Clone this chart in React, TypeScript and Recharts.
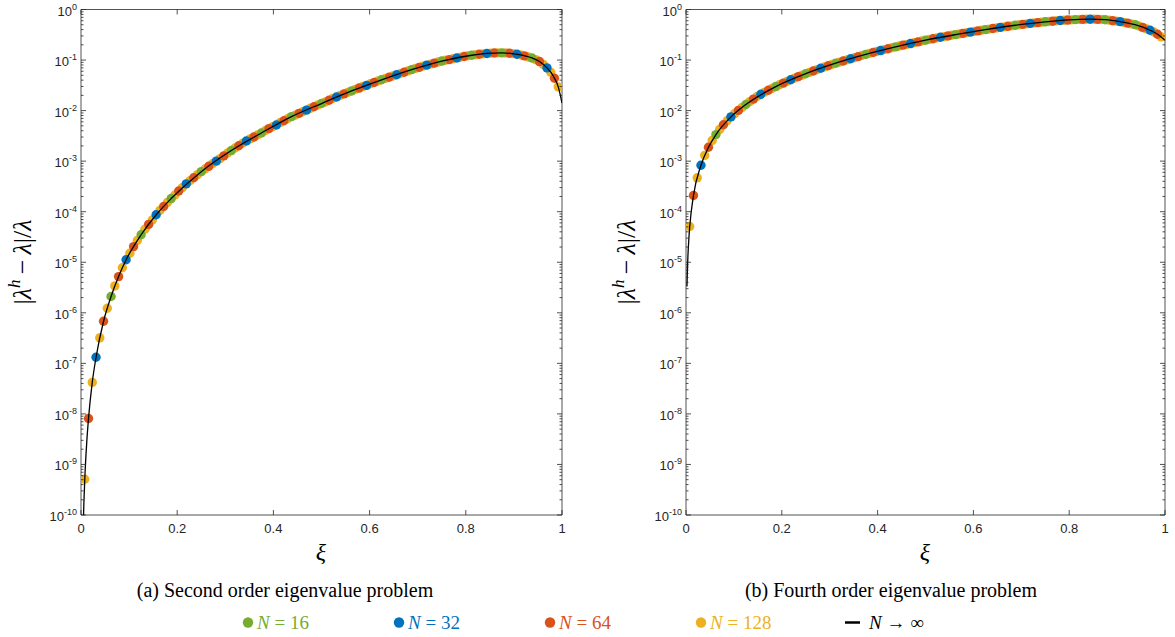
import React from "react";
import { ComposedChart, Scatter, Line, XAxis, YAxis } from "recharts";

// (a) second order problem: |lambda_h - lambda| / lambda
// N = 16 at k/16, k = 1..15
const n16A = [2.1e-6, 3.5e-5, 1.82e-4, 6.2e-4, 1.62e-3, 3.6e-3, 7.6e-3, 1.38e-2, 2.45e-2, 4.07e-2, 6.46e-2, 9.55e-2, 0.1245, 0.1387, 0.11];
// N = 32 at odd k/32 (even ones sit under the N = 16 dots)
const n32A = [1.32e-7, 1.12e-5, 8.7e-5, 3.55e-4, 1.0e-3, 2.5e-3, 5.2e-3, 1.02e-2, 1.86e-2, 3.16e-2, 5.13e-2, 7.94e-2, 0.11, 0.135, 0.13, 0.07];
// N = 64 at odd k/64
const n64A = [
  8.1e-9, 6.8e-7, 5.2e-6, 2.04e-5, 5.6e-5, 1.27e-4, 2.57e-4, 4.7e-4, 7.9e-4, 1.27e-3, 2.02e-3, 3.0e-3, 4.4e-3, 6.3e-3, 8.8e-3, 1.19e-2,
  1.6e-2, 2.14e-2, 2.79e-2, 3.59e-2, 4.57e-2, 5.75e-2, 7.16e-2, 8.71e-2, 0.102, 0.1175, 0.13, 0.1377, 0.136, 0.121, 0.0933, 0.0437,
];
// N = 128 at odd k/128
const n128A = [
  5.1e-10, 4.2e-8, 3.2e-7, 1.23e-6, 3.4e-6, 7.8e-6, 1.51e-5, 2.7e-5, 4.5e-5, 6.9e-5, 1.06e-4, 1.53e-4, 2.14e-4, 3.0e-4, 4.1e-4, 5.4e-4,
  7.0e-4, 8.9e-4, 1.12e-3, 1.45e-3, 1.82e-3, 2.26e-3, 2.75e-3, 3.3e-3, 4.0e-3, 4.8e-3, 5.8e-3, 6.9e-3, 8.1e-3, 9.5e-3, 1.11e-2, 1.29e-2,
  1.48e-2, 1.74e-2, 2.0e-2, 2.29e-2, 2.63e-2, 2.99e-2, 3.39e-2, 3.85e-2, 4.32e-2, 4.84e-2, 5.43e-2, 6.1e-2, 6.84e-2, 7.59e-2, 8.32e-2, 9.12e-2,
  9.89e-2, 0.106, 0.1135, 0.1217, 0.127, 0.1327, 0.1365, 0.1384, 0.138, 0.1337, 0.126, 0.115, 0.102, 0.0822, 0.0575, 0.0295,
];
// N -> infinity curve
const limXiA = [0.004, 0.006, 0.008, 0.012, 0.0156, 0.0234, 0.0313, 0.0469, 0.0625, 0.0781, 0.0938, 0.125, 0.1563, 0.1875, 0.25, 0.3125, 0.375, 0.4375, 0.5, 0.5625, 0.625, 0.6875, 0.75, 0.8125, 0.8438, 0.875, 0.9063, 0.9375, 0.9531, 0.9688, 0.9766, 0.9844, 0.9922, 1];
const limErrA = [3.5e-11, 1.74e-10, 5.5e-10, 2.8e-9, 8.1e-9, 4.2e-8, 1.32e-7, 6.8e-7, 2.1e-6, 5.2e-6, 1.12e-5, 3.5e-5, 8.7e-5, 1.82e-4, 6.2e-4, 1.62e-3, 3.6e-3, 7.6e-3, 1.38e-2, 2.45e-2, 4.07e-2, 6.46e-2, 9.55e-2, 0.1245, 0.135, 0.1387, 0.13, 0.11, 0.0933, 0.07, 0.0575, 0.0437, 0.0295, 0.0141];

// (b) fourth order problem
const n16B = [3.35e-3, 1.32e-2, 2.99e-2, 5.37e-2, 8.65e-2, 0.129, 0.182, 0.247, 0.318, 0.399, 0.488, 0.571, 0.631, 0.628, 0.501];
const n32B = [8.3e-4, 7.5e-3, 2.11e-2, 4.07e-2, 6.87e-2, 0.106, 0.154, 0.212, 0.282, 0.357, 0.443, 0.531, 0.605, 0.643, 0.575, 0.389];
const n64B = [
  2.09e-4, 1.88e-3, 5.25e-3, 1.01e-2, 1.69e-2, 2.53e-2, 3.5e-2, 4.69e-2, 6.08e-2, 7.71e-2, 9.57e-2, 0.117, 0.141, 0.167, 0.197, 0.229,
  0.264, 0.3, 0.337, 0.378, 0.421, 0.465, 0.508, 0.551, 0.587, 0.618, 0.637, 0.638, 0.601, 0.537, 0.442, 0.324,
];
const n128B = [
  5.1e-5, 4.68e-4, 1.3e-3, 2.57e-3, 4.22e-3, 6.31e-3, 8.71e-3, 1.16e-2, 1.5e-2, 1.9e-2, 2.32e-2, 2.75e-2, 3.24e-2, 3.78e-2, 4.38e-2, 5.02e-2,
  5.71e-2, 6.47e-2, 7.28e-2, 8.17e-2, 9.1e-2, 0.1007, 0.111, 0.123, 0.135, 0.148, 0.161, 0.175, 0.189, 0.204, 0.22, 0.238,
  0.255, 0.273, 0.29, 0.309, 0.327, 0.347, 0.367, 0.388, 0.409, 0.432, 0.453, 0.475, 0.498, 0.52, 0.541, 0.561,
  0.579, 0.597, 0.611, 0.624, 0.634, 0.64, 0.641, 0.634, 0.615, 0.589, 0.556, 0.519, 0.471, 0.415, 0.359, 0.288,
];
const limXiB = [0.002, 0.003, 0.004, 0.006, 0.0078, 0.0156, 0.0313, 0.0469, 0.0625, 0.0938, 0.125, 0.1875, 0.25, 0.3125, 0.375, 0.4375, 0.5, 0.5625, 0.625, 0.6875, 0.75, 0.8125, 0.8438, 0.875, 0.9063, 0.9375, 0.9688, 0.9844, 1];
const limErrB = [3.3e-6, 7.4e-6, 1.32e-5, 2.95e-5, 5.1e-5, 2.09e-4, 8.3e-4, 1.88e-3, 3.35e-3, 7.5e-3, 1.32e-2, 2.99e-2, 5.37e-2, 8.65e-2, 0.129, 0.182, 0.247, 0.318, 0.399, 0.488, 0.571, 0.631, 0.643, 0.628, 0.575, 0.501, 0.389, 0.324, 0.247];

const xTicks = [0, 0.2, 0.4, 0.6, 0.8, 1];
const yDecades = [1e-10, 1e-9, 1e-8, 1e-7, 1e-6, 1e-5, 1e-4, 1e-3, 1e-2, 1e-1, 1];
const legendN = ["16", "32", "64", "128"];

const AX = "#262626";
const GREEN = "#77AC30";
const BLUE = "#0072BD";
const RED = "#D95319";
const YELLOW = "#EDB120";
const legendColors = [GREEN, BLUE, RED, YELLOW];

// major + minor log ticks
const yTicks: number[] = [];
yDecades.forEach((d, i) => {
  yTicks.push(d);
  if (i < yDecades.length - 1) for (let m = 2; m <= 9; m++) yTicks.push(m * d);
});

const isMajor = (v: number) => yDecades.includes(v);

function LeftTick(p: any) {
  const v = p.payload.value;
  const major = isMajor(v);
  return (
    <g>
      <line x1={p.x} x2={p.x + (major ? 5 : 2.5)} y1={p.y} y2={p.y} stroke={AX} strokeWidth={0.8} />
      {major && (
        <text x={p.x - 4} y={p.y + 6} textAnchor="end" fontFamily="Liberation Sans" fontSize={13} fill={AX}>
          10<tspan dy={-6} fontSize={9}>{Math.round(Math.log10(v))}</tspan>
        </text>
      )}
    </g>
  );
}

function RightTick(p: any) {
  const major = isMajor(p.payload.value);
  return <line x1={p.x} x2={p.x - (major ? 5 : 2.5)} y1={p.y} y2={p.y} stroke={AX} strokeWidth={0.8} />;
}

function BottomTick(p: any) {
  return (
    <g>
      <line x1={p.x} x2={p.x} y1={p.y} y2={p.y - 5} stroke={AX} strokeWidth={0.8} />
      <text x={p.x} y={p.y + 18} textAnchor="middle" fontFamily="Liberation Sans" fontSize={13} fill={AX}>
        {String(p.payload.value)}
      </text>
    </g>
  );
}

function TopTick(p: any) {
  return <line x1={p.x} x2={p.x} y1={p.y} y2={p.y + 5} stroke={AX} strokeWidth={0.8} />;
}

const dot = (c: string) => (p: any) => <circle cx={p.cx} cy={p.cy} r={4.7} fill={c} />;

function Panel(props: any) {
  const { left, width, marginRight, n16, n32, n64, n128, limXi, limErr } = props;
  const d16 = n16.map((y: number, i: number) => ({ x: (i + 1) / 16, y }));
  const d32 = n32.map((y: number, i: number) => ({ x: (2 * i + 1) / 32, y }));
  const d64 = n64.map((y: number, i: number) => ({ x: (2 * i + 1) / 64, y }));
  const d128 = n128.map((y: number, i: number) => ({ x: (2 * i + 1) / 128, y }));
  const lim = limXi.map((x: number, i: number) => ({ x, y: limErr[i] }));
  return (
    <div style={{ position: "absolute", left, top: 0 }}>
      <ComposedChart width={width} height={540} margin={{ top: 8.5, right: marginRight, bottom: 24, left: 0 }}>
        <XAxis
          type="number"
          dataKey="x"
          domain={[0, 1]}
          ticks={xTicks}
          interval={0}
          height={1}
          tickSize={0}
          tickMargin={0}
          tickLine={false}
          axisLine={{ stroke: AX, strokeWidth: 0.8 }}
          tick={(p: any) => <BottomTick {...p} />}
          allowDataOverflow
        />
        <XAxis
          xAxisId="top"
          orientation="top"
          type="number"
          dataKey="x"
          domain={[0, 1]}
          ticks={xTicks}
          interval={0}
          height={1}
          tickSize={0}
          tickMargin={0}
          tickLine={false}
          axisLine={{ stroke: AX, strokeWidth: 0.8 }}
          tick={(p: any) => <TopTick {...p} />}
          allowDataOverflow
        />
        <YAxis
          type="number"
          dataKey="y"
          scale="log"
          domain={[1e-10, 1]}
          ticks={yTicks}
          interval={0}
          width={81}
          tickSize={0}
          tickMargin={0}
          tickLine={false}
          axisLine={{ stroke: AX, strokeWidth: 0.8 }}
          tick={(p: any) => <LeftTick {...p} />}
          allowDataOverflow
        />
        <YAxis
          yAxisId="right"
          orientation="right"
          type="number"
          dataKey="y"
          scale="log"
          domain={[1e-10, 1]}
          ticks={yTicks}
          interval={0}
          width={1}
          tickSize={0}
          tickMargin={0}
          tickLine={false}
          axisLine={{ stroke: AX, strokeWidth: 0.8 }}
          tick={(p: any) => <RightTick {...p} />}
          allowDataOverflow
        />
        <Scatter data={d128} fill={YELLOW} shape={dot(YELLOW)} isAnimationActive={false} />
        <Scatter data={d64} fill={RED} shape={dot(RED)} isAnimationActive={false} />
        <Scatter data={d32} fill={BLUE} shape={dot(BLUE)} isAnimationActive={false} />
        <Scatter data={d16} fill={GREEN} shape={dot(GREEN)} isAnimationActive={false} />
        <Line
          data={lim}
          dataKey="y"
          type="monotone"
          stroke="#000"
          strokeWidth={1.3}
          dot={false}
          activeDot={false}
          isAnimationActive={false}
          {...({ zIndex: 700 } as any)}
        />
      </ComposedChart>
    </div>
  );
}

const serif = "Liberation Serif";

function YLabel({ x }: { x: number }) {
  return (
    <text transform={`translate(${x},262) rotate(-90)`} textAnchor="middle" fontFamily={serif} fontSize={26} fill="#000">
      |<tspan fontStyle="italic">λ</tspan>
      <tspan fontStyle="italic" fontSize={17} dy={-11}>h</tspan>
      <tspan dy={11}>{"\u2009−\u2009"}</tspan>
      <tspan fontStyle="italic">λ</tspan>|/<tspan fontStyle="italic">λ</tspan>
    </text>
  );
}

export default function App() {
  return (
    <div style={{ position: "absolute", left: 0, top: 0, width: 1175, height: 637, background: "#fff" }}>
      <Panel left={0} width={590} marginRight={27} n16={n16A} n32={n32A} n64={n64A} n128={n128A} limXi={limXiA} limErr={limErrA} />
      <Panel left={605} width={575} marginRight={14} n16={n16B} n32={n32B} n64={n64B} n128={n128B} limXi={limXiB} limErr={limErrB} />
      <svg width={1175} height={637} style={{ position: "absolute", left: 0, top: 0, pointerEvents: "none" }}>
        <YLabel x={31} />
        <YLabel x={635} />
        <text x={321} y={560} textAnchor="middle" fontFamily={serif} fontStyle="italic" fontSize={24}>ξ</text>
        <text x={925} y={560} textAnchor="middle" fontFamily={serif} fontStyle="italic" fontSize={24}>ξ</text>
        <text x={285} y={597} textAnchor="middle" fontFamily={serif} fontSize={20}>(a) Second order eigenvalue problem</text>
        <text x={891} y={597} textAnchor="middle" fontFamily={serif} fontSize={20}>(b) Fourth order eigenvalue problem</text>
        {legendN.map((n, i) => {
          const cx = 248 + i * 151;
          return (
            <g key={n}>
              <circle cx={cx} cy={622.5} r={5.2} fill={legendColors[i]} />
              <text x={cx + 9} y={628.5} fontFamily={serif} fontSize={19} fill={legendColors[i]}>
                <tspan fontStyle="italic">N</tspan> = {n}
              </text>
            </g>
          );
        })}
        <line x1={845} x2={860} y1={622.5} y2={622.5} stroke="#000" strokeWidth={2.5} />
        <text x={869} y={628.5} fontFamily={serif} fontSize={19} fill="#000">
          <tspan fontStyle="italic">N</tspan> → ∞
        </text>
      </svg>
    </div>
  );
}
